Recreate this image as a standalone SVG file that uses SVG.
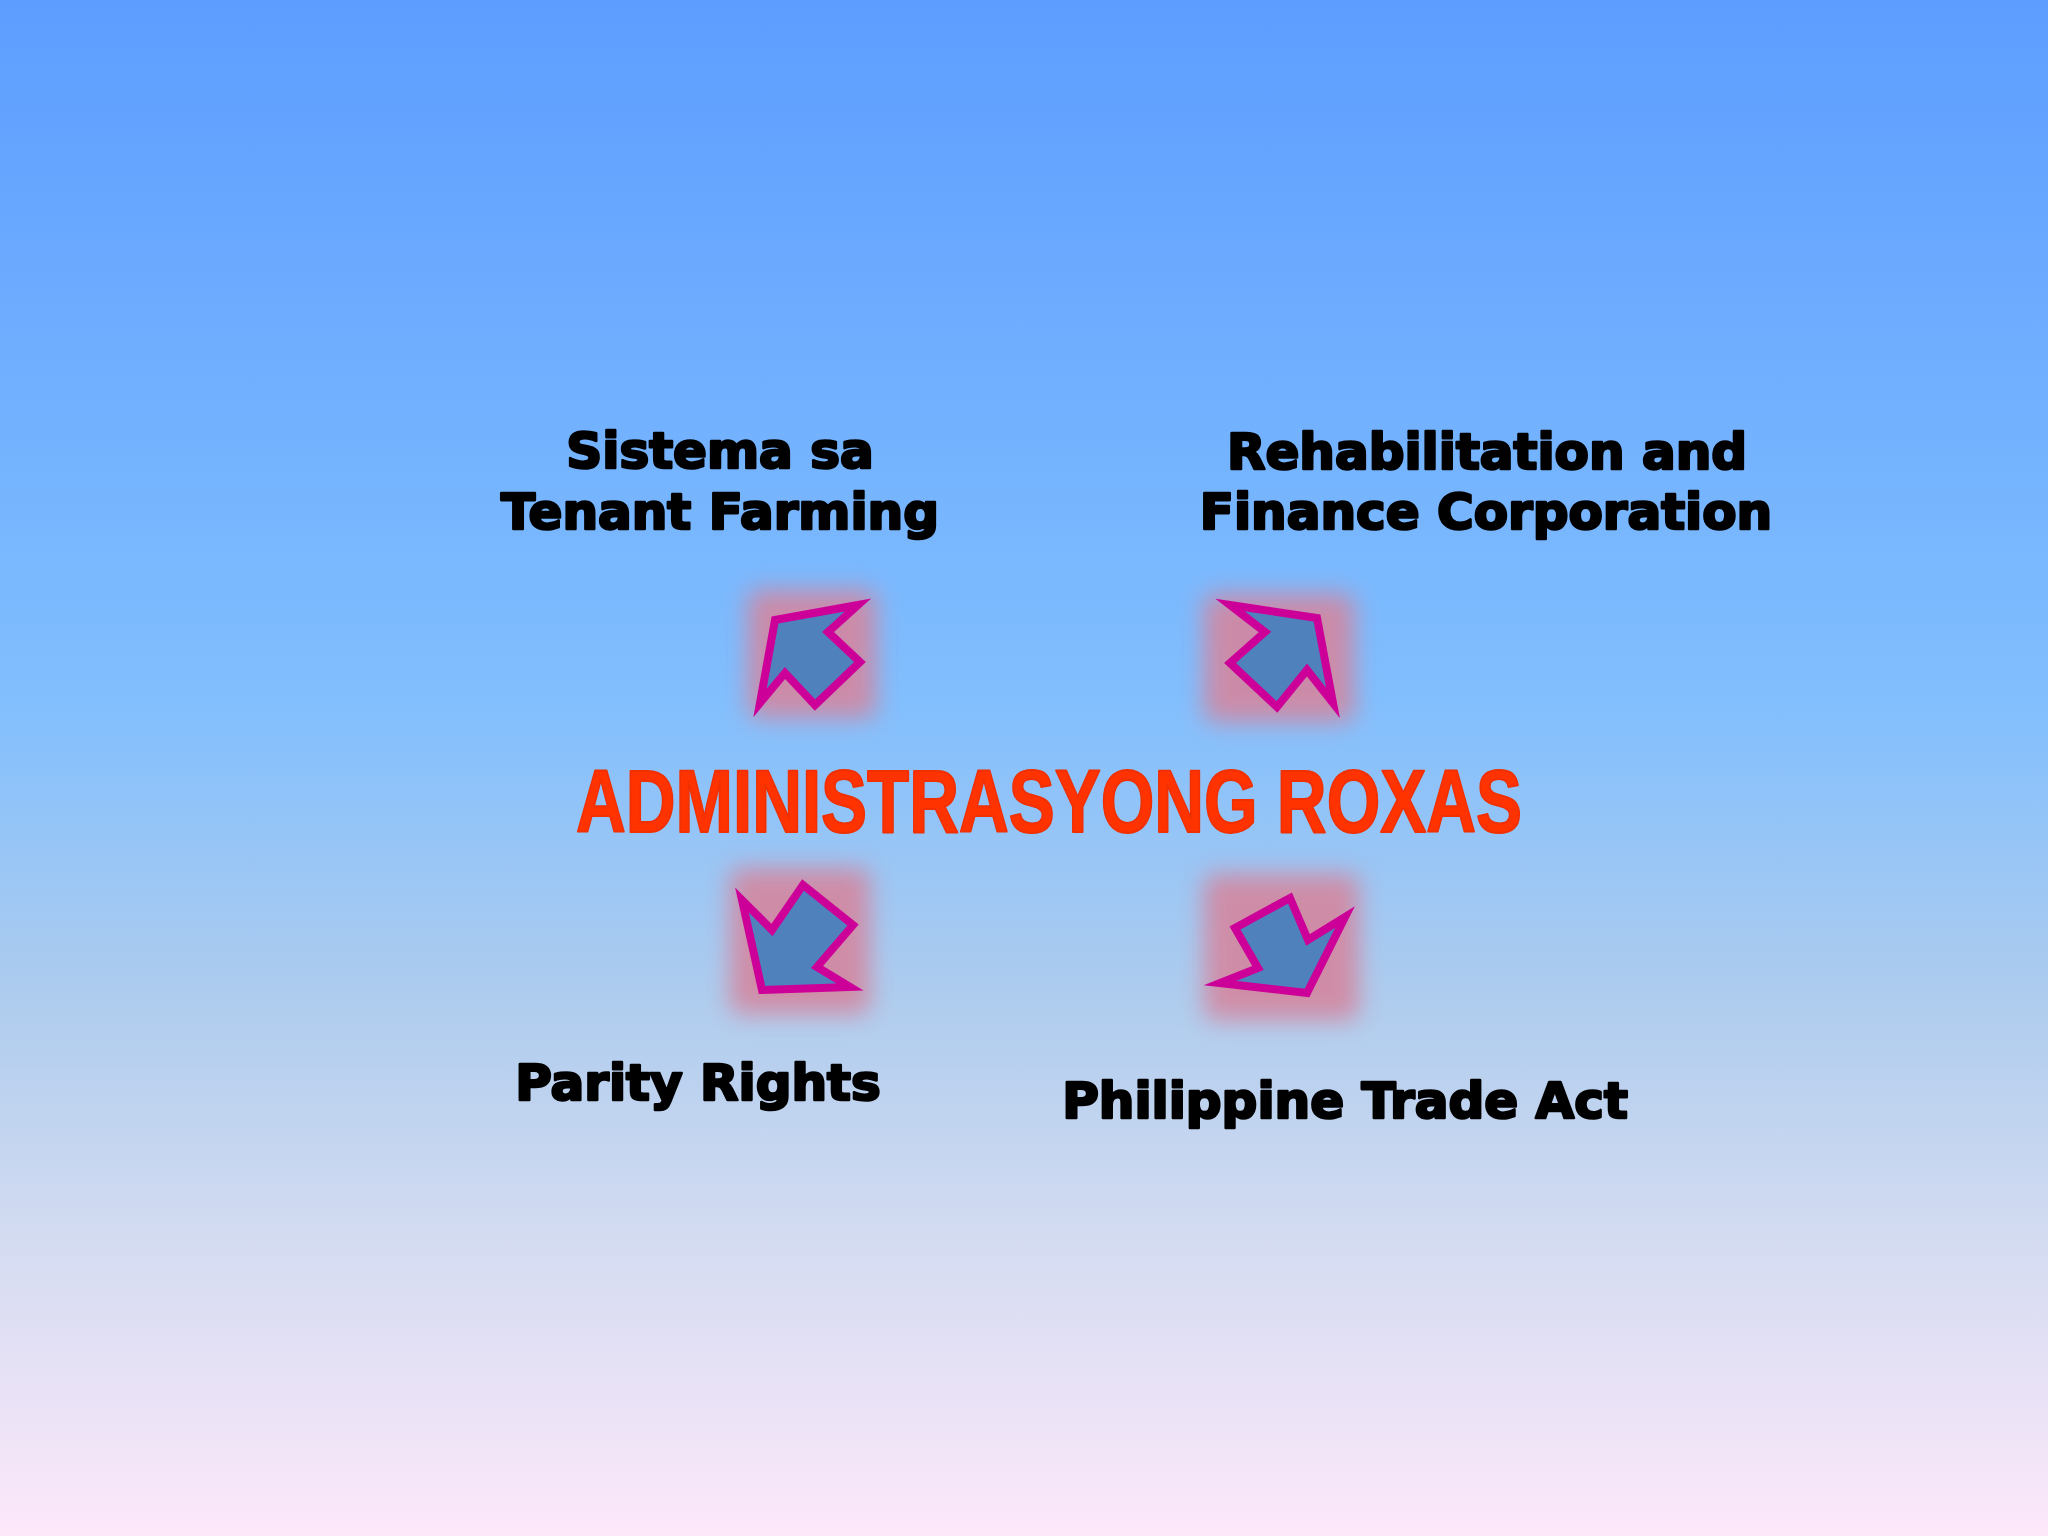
<svg xmlns="http://www.w3.org/2000/svg" width="2048" height="1536" viewBox="0 0 2048 1536">
  <defs>
    <linearGradient id="bg" x1="0" y1="0" x2="0" y2="1">
      <stop offset="0" stop-color="#5D9DFF"/>
      <stop offset="0.45" stop-color="#80BEFE"/>
      <stop offset="0.65" stop-color="#AECCEE"/>
      <stop offset="0.8" stop-color="#D2DBF1"/>
      <stop offset="1" stop-color="#FDE8FA"/>
    </linearGradient>
    <filter id="soft" x="-40%" y="-40%" width="180%" height="180%">
      <feGaussianBlur stdDeviation="12"/>
    </filter>
    <style>
      .lbl { font-family: "DejaVu Sans", "Liberation Sans", sans-serif; font-weight: bold; font-size: 50px; fill: #000; stroke: #000; stroke-width: 2.6; stroke-linejoin: round; text-anchor: middle; }
      .title { font-family: "Liberation Sans", "DejaVu Sans", sans-serif; font-weight: bold; font-size: 89px; fill: #FF3300; stroke: #F03000; stroke-width: 2; stroke-linejoin: round; }
      .glow { fill: #D4869F; opacity: 0.9; filter: url(#soft); }
      .arrow { fill: #4F81BD; stroke: #CC0099; stroke-width: 8; stroke-linejoin: miter; stroke-miterlimit: 10; }
    </style>
  </defs>
  <rect x="0" y="0" width="2048" height="1536" fill="url(#bg)"/>

  <g id="title">
    <text class="title" x="576" y="832" textLength="946" lengthAdjust="spacingAndGlyphs">ADMINISTRASYONG ROXAS</text>
  </g>

  <g id="node-tenant">
    <text class="lbl" x="720" y="468">Sistema sa</text>
    <text class="lbl" x="720" y="529">Tenant Farming</text>
  </g>
  <g id="node-rfc">
    <text class="lbl" x="1487" y="469">Rehabilitation and</text>
    <text class="lbl" x="1486" y="529">Finance Corporation</text>
  </g>
  <g id="node-parity">
    <text class="lbl" x="698" y="1100">Parity Rights</text>
  </g>
  <g id="node-trade">
    <text class="lbl" x="1345" y="1118">Philippine Trade Act</text>
  </g>

  <g id="connectors">
    <g id="arrow-tl">
      <rect class="glow" x="748" y="590" width="128" height="128" rx="10"/>
      <polygon class="arrow" points="775,620 858,605 828,632 860,662 815,705 785,673 760,703"/>
    </g>
    <g id="arrow-tr">
      <rect class="glow" x="1204" y="594" width="150" height="128" rx="10"/>
      <polygon class="arrow" points="1230,605 1317,618 1333,703 1307,670 1277,707 1230,663 1265,632"/>
    </g>
    <g id="arrow-bl">
      <rect class="glow" x="730" y="868" width="140" height="146" rx="10"/>
      <polygon class="arrow" points="742,900 772,930 803,885 853,925 817,967 850,987 762,990"/>
    </g>
    <g id="arrow-br">
      <rect class="glow" x="1204" y="874" width="155" height="146" rx="10"/>
      <polygon class="arrow" points="1235,928 1290,898 1308,940 1345,917 1307,993 1220,983 1258,968"/>
    </g>
  </g>
</svg>
